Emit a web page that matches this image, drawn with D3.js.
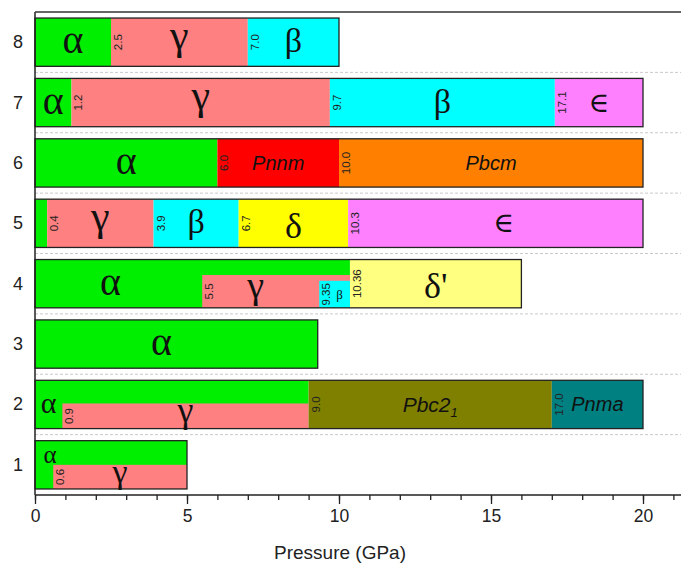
<!DOCTYPE html>
<html><head><meta charset="utf-8">
<script src="https://cdn.jsdelivr.net/npm/d3@7"></script>
<style>body{margin:0;background:#fff} svg{display:block}</style>
</head><body><script>
// Sample rows of the phase diagram, bottom to top
const rowIds = ["1", "2", "3", "4", "5", "6", "7", "8"];

// Phase intervals per row: [phase, from (GPa), to (GPa), layer]
// layer 0 spans the whole bar; layers 1 and 2 are coexisting phases in the lower part
const row1 = [["α", 0, 5.0, 0], ["γ", 0.6, 5.0, 1]];
const row2 = [["α", 0, 9.0, 0], ["γ", 0.9, 9.0, 1], ["Pbc21", 9.0, 17.0, 0], ["Pnma", 17.0, 20, 0]];
const row3 = [["α", 0, 9.3, 0]];
const row4 = [["α", 0, 10.36, 0], ["γ", 5.5, 10.36, 1], ["β", 9.35, 10.36, 2], ["δ'", 10.36, 16, 0]];
const row5 = [["α", 0, 0.4, 0], ["γ", 0.4, 3.9, 0], ["β", 3.9, 6.7, 0], ["δ", 6.7, 10.3, 0], ["∈", 10.3, 20, 0]];
const row6 = [["α", 0, 6.0, 0], ["Pnnm", 6.0, 10.0, 0], ["Pbcm", 10.0, 20, 0]];
const row7 = [["α", 0, 1.2, 0], ["γ", 1.2, 9.7, 0], ["β", 9.7, 17.1, 0], ["∈", 17.1, 20, 0]];
const row8 = [["α", 0, 2.5, 0], ["γ", 2.5, 7.0, 0], ["β", 7.0, 10.0, 0]];
const rowData = [row1, row2, row3, row4, row5, row6, row7, row8];

const xTicks = d3.range(0, 22, 1);
const xTickLabels = [0, 5, 10, 15, 20];
const xTitle = "Pressure (GPa)";

// ---- styles ----
const phaseColor = {
  "α": "#00ee00", "γ": "#ff8080", "β": "#00ffff", "δ": "#ffff00", "∈": "#ff80ff",
  "δ'": "#ffff80", "Pnnm": "#ff0000", "Pbcm": "#ff8000", "Pbc21": "#808000", "Pnma": "#008080"
};
const overlayFrac = { "1": [0.5], "2": [0.52], "4": [0.68, 0.56] };
// glyph size and baseline shift (in em) so each symbol sits visually centred
const glyphSize = { "α": 40, "γ": 42, "β": 34, "δ": 36, "δ'": 36, "∈": 28 };
const glyphShift = { "α": 0.23, "γ": 0.11, "β": 0.24, "δ": 0.35, "δ'": 0.35, "∈": 0.25 };
const labelSize = { "1:α": 25, "2:α": 30, "4:β": 13, "4:γ": 38, "2:γ": 36, "1:γ": 34 };
const labelNudge = { "1:α": [6, -10], "3:α": [-15, 0], "4:α": [-8, 0], "4:γ": [-5, 0], "4:β": [5, 0], "5:∈": [8, 0] };

const W = 681, H = 568;
const svg = d3.select("body").append("svg").attr("width", W).attr("height", H);

const x = d3.scaleLinear().domain([0, 21.25]).range([35, 681]);
const y = d3.scaleBand().domain(rowIds).range([495, 12]).paddingInner(0.2).paddingOuter(0.1);
const bw = y.bandwidth();
const gap = y.step() * 0.2;

// dashed separators between rows
svg.append("g").selectAll("line").data(rowIds.slice(0, 7)).join("line")
  .attr("x1", x(0)).attr("x2", W)
  .attr("y1", d => y(d) - gap / 2).attr("y2", d => y(d) - gap / 2)
  .attr("stroke", "#c9c9c9").attr("stroke-width", 1).attr("stroke-dasharray", "3,2");

const fmt = v => Number.isInteger(Math.round(v * 100) / 10) ? v.toFixed(1) : v.toFixed(2);

function segRect(id, layer) {
  if (layer === 0) return { y0: y(id), h: bw };
  const f = overlayFrac[id][layer - 1];
  return { y0: y(id) + bw * (1 - f), h: bw * f };
}

rowIds.forEach((id, i) => {
  const segs = rowData[i].map(s => ({ phase: s[0], from: s[1], to: s[2], layer: s[3] }));
  const g = svg.append("g");
  segs.forEach(s => { const r = segRect(id, s.layer); s.y0 = r.y0; s.h = r.h; });

  // filled phase intervals, drawn layer by layer
  g.selectAll("rect.seg").data(segs.slice().sort((a, b) => a.layer - b.layer)).join("rect")
    .attr("class", "seg")
    .attr("x", d => x(d.from)).attr("width", d => x(d.to) - x(d.from))
    .attr("y", d => d.y0).attr("height", d => d.h)
    .attr("fill", d => phaseColor[d.phase]);

  // outline of the whole bar
  const base = segs.filter(s => s.layer === 0);
  const xmin = d3.min(base, s => s.from), xmax = d3.max(base, s => s.to);
  g.append("rect").attr("x", x(xmin)).attr("y", y(id)).attr("width", x(xmax) - x(xmin)).attr("height", bw)
    .attr("fill", "none").attr("stroke", "#222").attr("stroke-width", 1.3);

  // transition pressures, written upward just after each boundary
  segs.filter(s => s.from > 0).forEach(s => {
    g.append("text")
      .attr("transform", `translate(${x(s.from) + 7},${s.y0 + s.h / 2}) rotate(-90)`)
      .attr("text-anchor", "middle").attr("dominant-baseline", "central")
      .attr("font-family", "Liberation Sans, Arial, sans-serif").attr("font-size", 11.5).attr("fill", "#222")
      .text(fmt(s.from));
  });

  // phase names
  segs.forEach(s => {
    if (s.to - s.from < 0.5) return;
    // visible part of the interval ends where a coexisting overlay starts
    const inner = segs.filter(o => o.layer === s.layer + 1 && o.from > s.from && o.from < s.to);
    const end = inner.length ? d3.min(inner, o => o.from) : s.to;
    const key = id + ":" + s.phase;
    const nudge = labelNudge[key] || [0, 0];
    const cx = (x(s.from) + x(end)) / 2 + nudge[0];
    const cy = s.y0 + s.h / 2 + nudge[1];
    const t = g.append("text").attr("x", cx).attr("text-anchor", "middle").attr("fill", "#111");
    if (s.phase.startsWith("P")) {
      t.attr("y", cy).attr("dominant-baseline", "central")
        .attr("font-family", "Liberation Sans, Arial, sans-serif").attr("font-style", "italic")
        .attr("font-size", s.phase === "Pbc21" ? 21 : 20);
      if (s.phase === "Pbc21") {
        t.append("tspan").text("Pbc2");
        t.append("tspan").attr("font-size", 13).attr("dy", 8).text("1");
      } else t.text(s.phase);
    } else {
      const size = labelSize[key] || glyphSize[s.phase];
      t.attr("y", cy + 2 + glyphShift[s.phase] * size)
        .attr("font-family", "Liberation Serif, DejaVu Serif, serif").attr("font-size", size)
        .text(s.phase);
    }
  });
});

// frame: left axis line and top border
svg.append("line").attr("x1", x(0)).attr("x2", x(0)).attr("y1", 12).attr("y2", 495)
  .attr("stroke", "#222").attr("stroke-width", 1.5);
svg.append("line").attr("x1", x(0)).attr("x2", W).attr("y1", 12).attr("y2", 12)
  .attr("stroke", "#333").attr("stroke-width", 1.5);

// row labels
svg.append("g").selectAll("text").data(rowIds).join("text")
  .attr("x", 18).attr("y", d => y(d) + bw / 2).attr("text-anchor", "middle").attr("dominant-baseline", "central")
  .attr("font-family", "Liberation Sans, Arial, sans-serif").attr("font-size", 18).attr("fill", "#222")
  .text(d => d);

// x axis: minor ticks every 1 GPa, labelled major ticks every 5 GPa
const axisY = 495;
const minor = svg.append("g").attr("transform", `translate(0,${axisY})`)
  .call(d3.axisBottom(x).tickValues(xTicks).tickSize(5).tickFormat(""));
const major = svg.append("g").attr("transform", `translate(0,${axisY})`)
  .call(d3.axisBottom(x).tickValues(xTickLabels).tickSize(9).tickPadding(6).tickFormat(d3.format("d")));
[minor, major].forEach(a => {
  a.select(".domain").remove();
  a.selectAll("line").attr("stroke", "#222").attr("stroke-width", 1.3);
});
major.selectAll("text").attr("font-family", "Liberation Sans, Arial, sans-serif").attr("font-size", 17.5).attr("fill", "#222");
svg.append("line").attr("x1", x(0)).attr("x2", W).attr("y1", axisY).attr("y2", axisY)
  .attr("stroke", "#222").attr("stroke-width", 1.5);

svg.append("text").attr("x", 340).attr("y", 559).attr("text-anchor", "middle")
  .attr("font-family", "Liberation Sans, Arial, sans-serif").attr("font-size", 19).attr("fill", "#222")
  .text(xTitle);
</script></body></html>
